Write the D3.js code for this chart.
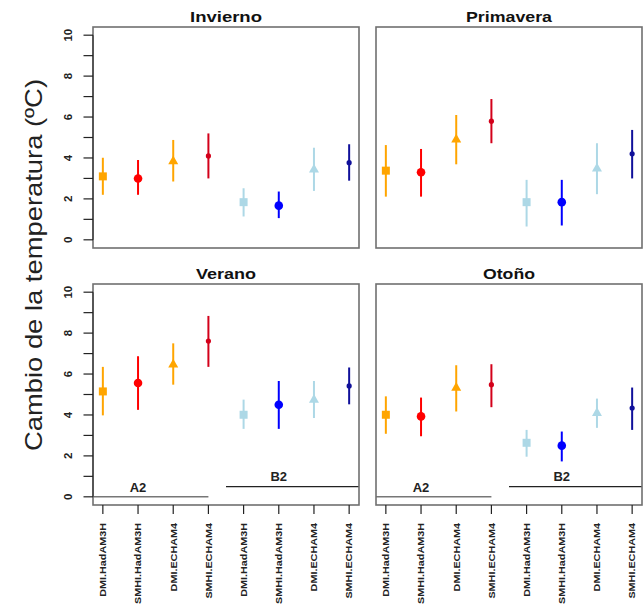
<!DOCTYPE html>
<html>
<head>
<meta charset="utf-8">
<script src="https://cdn.jsdelivr.net/npm/d3@7"></script>
<style>
  html, body { margin: 0; padding: 0; background: #fff; }
  svg { display: block; font-family: "Liberation Sans", Arial, Helvetica, sans-serif; }
</style>
</head>
<body>
<svg id="chart" width="643" height="608"></svg>
<script>
// ---------- data ----------
const models = ["DMI.HadAM3H", "SMHI.HadAM3H", "DMI.ECHAM4", "SMHI.ECHAM4",
                "DMI.HadAM3H", "SMHI.HadAM3H", "DMI.ECHAM4", "SMHI.ECHAM4"];
const scenarios = ["A2", "A2", "A2", "A2", "B2", "B2", "B2", "B2"];
const seasons = ["Invierno", "Primavera", "Verano", "Otoño"];

const inviernoMean  = [3.10, 3.00, 3.85, 4.10, 1.84, 1.67, 3.45, 3.77];
const inviernoLow   = [2.20, 2.20, 2.85, 3.00, 1.14, 1.06, 2.39, 2.89];
const inviernoHigh  = [4.01, 3.90, 4.88, 5.20, 2.52, 2.36, 4.50, 4.67];

const primaveraMean = [3.38, 3.30, 4.91, 5.80, 1.84, 1.84, 3.50, 4.20];
const primaveraLow  = [2.11, 2.11, 3.69, 4.72, 0.65, 0.70, 2.23, 3.00];
const primaveraHigh = [4.63, 4.44, 6.10, 6.88, 2.93, 2.93, 4.72, 5.37];

const veranoMean    = [5.15, 5.56, 6.48, 7.61, 4.01, 4.50, 4.75, 5.42];
const veranoLow     = [3.98, 4.25, 5.48, 6.35, 3.32, 3.32, 3.85, 4.52];
const veranoHigh    = [6.35, 6.87, 7.50, 8.84, 4.75, 5.66, 5.66, 6.32];

const otonoMean     = [4.01, 3.93, 5.34, 5.48, 2.64, 2.50, 4.11, 4.34];
const otonoLow      = [3.08, 2.96, 4.17, 4.38, 1.96, 1.73, 3.37, 3.27];
const otonoHigh     = [4.91, 4.85, 6.43, 6.48, 3.27, 3.19, 4.80, 5.34];

const yTickValues = [0, 1, 2, 3, 4, 5, 6, 7, 8, 9, 10];
const yTickLabels = [0, 2, 4, 6, 8, 10];

// scenario bands (drawn in bottom panels)
const scenarioNames = ["A2", "B2"];
const scenarioStart = [0, 4.5];
const scenarioEnd   = [4, 9];
const scenarioLineY = [0, 0.5];
const scenarioLabelX = [2, 6];
const scenarioLabelY = [0.45, 0.97];

// ---------- styling ----------
const colors = ["#FFA500", "#FF0000", "#FFA500", "#D3001A", "#ADD8E6", "#0000FF", "#ADD8E6", "#10109A"];
const shapes = ["square", "circle", "triangle", "dot", "square", "circle", "triangle", "dot"];

const seriesBySeason = {
  "Invierno":  { mean: inviernoMean,  low: inviernoLow,  high: inviernoHigh },
  "Primavera": { mean: primaveraMean, low: primaveraLow, high: primaveraHigh },
  "Verano":    { mean: veranoMean,    low: veranoLow,    high: veranoHigh },
  "Otoño":     { mean: otonoMean,     low: otonoLow,     high: otonoHigh }
};

const panels = [
  { season: "Invierno",  x0: 93,  x1: 359, y0: 27,  y1: 248, left: true,  bottom: false, titleW: 72 },
  { season: "Primavera", x0: 376, x1: 642, y0: 27,  y1: 248, left: false, bottom: false, titleW: 86 },
  { season: "Verano",    x0: 93,  x1: 359, y0: 284, y1: 505, left: true,  bottom: true,  titleW: 60 },
  { season: "Otoño",     x0: 376, x1: 642, y0: 284, y1: 505, left: false, bottom: true,  titleW: 52 }
];

const svg = d3.select("#chart");

panels.forEach((p, pi) => {
  const data = seriesBySeason[p.season];
  const x = d3.scaleLinear().domain([0.72, 8.28]).range([p.x0, p.x1]);
  const y = d3.scaleLinear().domain([-0.4, 10.4]).range([p.y1, p.y0]);
  const g = svg.append("g");

  const clipId = "clip" + pi;
  svg.append("clipPath").attr("id", clipId)
    .append("rect").attr("x", p.x0).attr("y", p.y0)
    .attr("width", p.x1 - p.x0).attr("height", p.y1 - p.y0);

  if (p.bottom) {
    const sg = g.append("g").attr("clip-path", `url(#${clipId})`);
    scenarioNames.forEach((s, i) => {
      sg.append("line")
        .attr("x1", x(scenarioStart[i])).attr("x2", x(scenarioEnd[i]))
        .attr("y1", y(scenarioLineY[i])).attr("y2", y(scenarioLineY[i]))
        .attr("stroke", i === 0 ? "#777" : "#222").attr("stroke-width", 1.4);
      g.append("text")
        .attr("x", x(scenarioLabelX[i])).attr("y", y(scenarioLabelY[i]))
        .attr("text-anchor", "middle").attr("dominant-baseline", "central")
        .attr("font-size", 13).attr("font-weight", "bold").attr("fill", "#222")
        .text(s);
    });
  }

  models.forEach((m, i) => {
    const cx = x(i + 1);
    g.append("line")
      .attr("x1", cx).attr("x2", cx)
      .attr("y1", y(data.low[i])).attr("y2", y(data.high[i]))
      .attr("stroke", colors[i]).attr("stroke-width", 2);
    const cy = y(data.mean[i]);
    if (shapes[i] === "square") {
      g.append("rect").attr("x", cx - 4).attr("y", cy - 4).attr("width", 8).attr("height", 8)
        .attr("fill", colors[i]);
    } else if (shapes[i] === "circle") {
      g.append("circle").attr("cx", cx).attr("cy", cy).attr("r", 4.3).attr("fill", colors[i]);
    } else if (shapes[i] === "triangle") {
      g.append("path")
        .attr("d", `M${cx},${cy - 5.5}L${cx + 5},${cy + 3.2}L${cx - 5},${cy + 3.2}Z`)
        .attr("fill", colors[i]);
    } else {
      g.append("circle").attr("cx", cx).attr("cy", cy).attr("r", 2.6).attr("fill", colors[i]);
    }
  });

  g.append("rect")
    .attr("x", p.x0).attr("y", p.y0)
    .attr("width", p.x1 - p.x0).attr("height", p.y1 - p.y0)
    .attr("fill", "none").attr("stroke", "#707070").attr("stroke-width", 1.6);

  g.append("text")
    .attr("x", (p.x0 + p.x1) / 2).attr("y", p.y0 - 5)
    .attr("text-anchor", "middle")
    .attr("font-size", 14).attr("font-weight", "bold").attr("fill", "#111")
    .attr("textLength", p.titleW).attr("lengthAdjust", "spacingAndGlyphs")
    .text(p.season);

  if (p.left) {
    const ax = g.append("g");
    ax.append("line")
      .attr("x1", p.x0).attr("x2", p.x0)
      .attr("y1", y(0)).attr("y2", y(10))
      .attr("stroke", "#333").attr("stroke-width", 1.2);
    yTickValues.forEach(v => {
      ax.append("line")
        .attr("x1", p.x0 - 9.5).attr("x2", p.x0)
        .attr("y1", y(v)).attr("y2", y(v))
        .attr("stroke", "#222").attr("stroke-width", 1.2);
    });
    yTickLabels.forEach(v => {
      ax.append("text")
        .attr("transform", `translate(${p.x0 - 21.5},${y(v)}) rotate(-90)`)
        .attr("text-anchor", "middle")
        .attr("font-size", 11.5).attr("font-weight", "bold").attr("fill", "#222")
        .text(v);
    });
  }

  if (p.bottom) {
    const ax = g.append("g");
    models.forEach((m, i) => {
      const cx = x(i + 1);
      ax.append("line")
        .attr("x1", cx).attr("x2", cx)
        .attr("y1", p.y1).attr("y2", p.y1 + 9)
        .attr("stroke", "#222").attr("stroke-width", 1.2);
      ax.append("text")
        .attr("transform", `translate(${cx + 3.3},${p.y1 + 18}) rotate(-90) scale(1.2,1)`)
        .attr("text-anchor", "end")
        .attr("font-size", 9).attr("font-weight", "bold").attr("fill", "#222")
        .text(m);
    });
  }
});

svg.append("text")
  .attr("transform", "translate(42,265) rotate(-90)")
  .attr("text-anchor", "middle")
  .attr("font-size", 24).attr("fill", "#222")
  .attr("textLength", 372).attr("lengthAdjust", "spacingAndGlyphs")
  .text("Cambio de la temperatura (ºC)");
</script>
</body>
</html>
